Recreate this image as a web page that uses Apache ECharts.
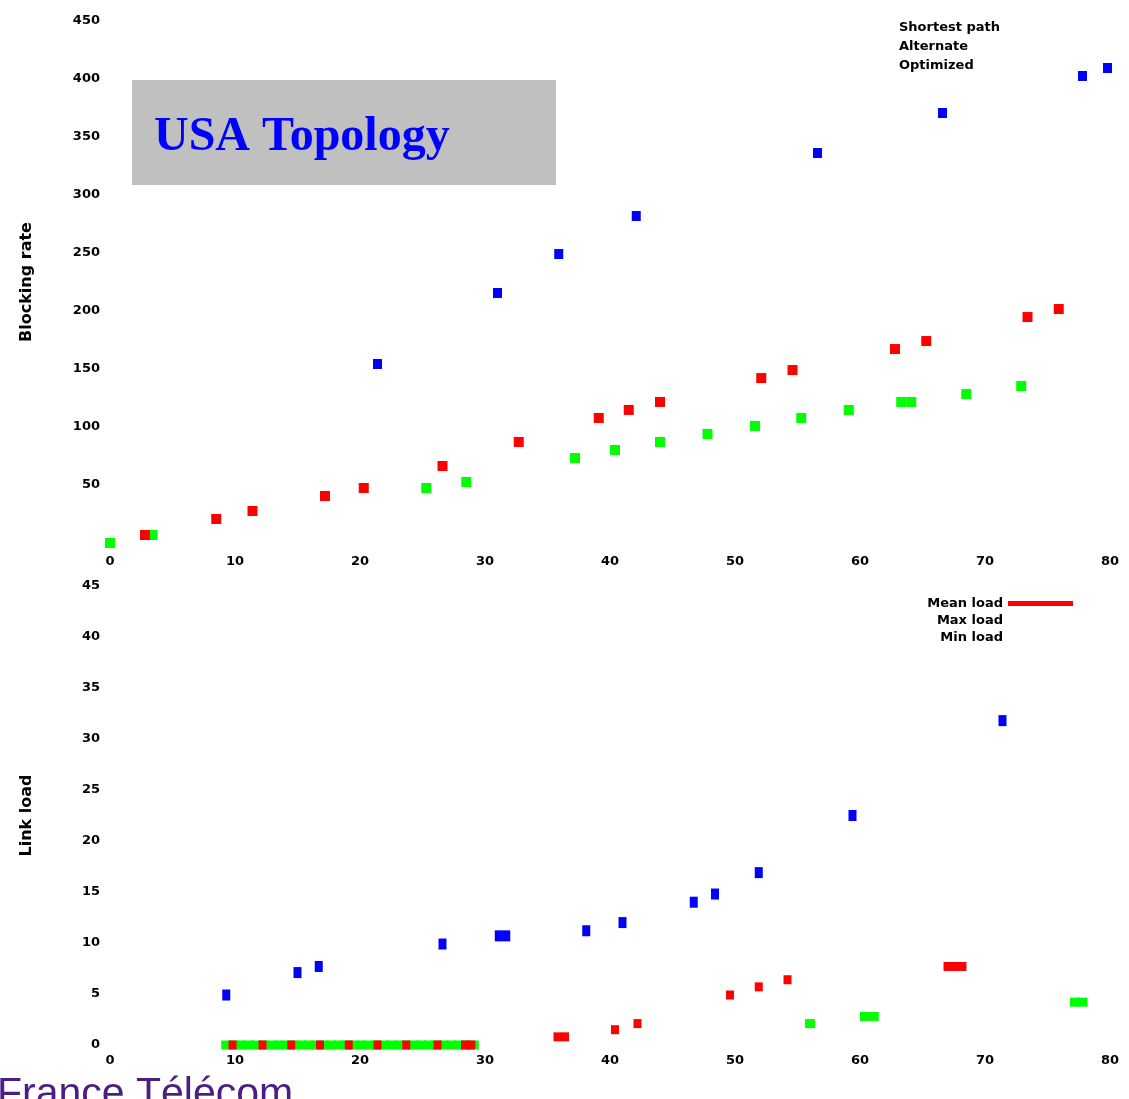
<!DOCTYPE html>
<html>
<head>
<meta charset="utf-8">
<script src="https://cdn.jsdelivr.net/npm/echarts@6/dist/echarts.min.js"></script>
<style>
html,body{margin:0;padding:0;background:#fff;}
#chart{width:1129px;height:1099px;}
</style>
</head>
<body>
<div id="chart"></div>
<script>
// ---- Top panel (USA Topology) ----
const topX_blue  = [21.4, 31.0, 35.9, 42.1, 56.6, 66.6, 77.8, 79.8];
const topY_blue  = [154.3, 215.5, 249.1, 281.9, 336.2, 370.7, 402.6, 409.5];
const topX_red   = [2.8, 8.5, 11.4, 17.2, 20.3, 26.6, 32.7, 39.1, 41.5, 44.0, 52.1, 54.6, 62.8, 65.3, 73.4, 75.9];
const topY_red   = [6.9, 20.7, 27.6, 40.5, 47.4, 66.4, 87.1, 107.8, 114.7, 121.6, 142.2, 149.1, 167.2, 174.1, 194.8, 201.7];
const topX_green = [0, 3.4, 25.3, 28.5, 37.2, 40.4, 44.0, 47.8, 51.6, 55.3, 59.1, 63.3, 64.1, 68.5, 72.9];
const topY_green = [0, 6.9, 47.4, 52.6, 73.3, 80.2, 87.1, 94.0, 100.9, 107.8, 114.7, 121.6, 121.6, 128.4, 135.3];

// ---- Bottom panel ----
const botX_blue  = [9.3, 15.0, 16.7, 26.6, 31.1, 31.7, 38.1, 41.0, 46.7, 48.4, 51.9, 59.4, 71.4];
const botY_blue  = [4.9, 7.1, 7.7, 9.9, 10.7, 10.7, 11.2, 12.0, 14.0, 14.8, 16.9, 22.5, 31.8];
const botX_red   = [9.8, 12.2, 14.5, 16.8, 19.1, 21.4, 23.7, 26.2, 28.4, 28.9, 35.8, 36.4, 40.4, 42.2, 49.6, 51.9, 54.2, 67.0, 67.6, 68.2];
const botY_red   = [0, 0, 0, 0, 0, 0, 0, 0, 0, 0, 0.8, 0.8, 1.5, 2.1, 4.9, 5.7, 6.4, 7.7, 7.7, 7.7];
const botX_green = [9.3, 9.9, 10.5, 11.1, 11.7, 12.3, 12.9, 13.5, 14.1, 14.7, 15.3, 15.9, 16.5, 17.1, 17.7, 18.3, 18.9, 19.5, 20.1, 20.7, 21.3, 21.9, 22.5, 23.1, 23.7, 24.3, 24.9, 25.5, 26.1, 26.7, 27.3, 27.9, 28.5, 29.1, 56.0, 60.4, 61.1, 77.2, 77.8];
const botY_green = [0, 0, 0, 0, 0, 0, 0, 0, 0, 0, 0, 0, 0, 0, 0, 0, 0, 0, 0, 0, 0, 0, 0, 0, 0, 0, 0, 0, 0, 0, 0, 0, 0, 0, 2.1, 2.8, 2.8, 4.2, 4.2];

const xTicks = [0, 10, 20, 30, 40, 50, 60, 70, 80];
const topYTicks = [0, 50, 100, 150, 200, 250, 300, 350, 400, 450];
const botYTicks = [0, 5, 10, 15, 20, 25, 30, 35, 40, 45];

const topNames = ['Shortest path', 'Alternate', 'Optimized'];
const botNames = ['Max load', 'Mean load', 'Min load'];

const pairs = (xs, ys) => xs.map((x, i) => [x, ys[i]]);

const labelStyle = {color: '#000', fontWeight: 'bold', fontSize: 13, fontFamily: 'DejaVu Sans'};

function xAxis(gridIndex, margin) {
  return {
    type: 'value', gridIndex, min: xTicks[0], max: xTicks[xTicks.length - 1], interval: 10,
    axisLine: {show: false}, axisTick: {show: false}, splitLine: {show: false},
    axisLabel: Object.assign({margin}, labelStyle)
  };
}
function yAxis(gridIndex, ticks, name, showMin) {
  return {
    type: 'value', gridIndex, min: ticks[0], max: ticks[ticks.length - 1], interval: ticks[1] - ticks[0],
    axisLine: {show: false}, axisTick: {show: false}, splitLine: {show: false},
    axisLabel: Object.assign({margin: 10, showMinLabel: showMin}, labelStyle),
    name, nameLocation: 'middle', nameGap: 75, nameRotate: 90,
    nameTextStyle: {color: '#000', fontWeight: 'bold', fontSize: 16, fontFamily: 'DejaVu Sans'}
  };
}
function sc(name, data, color, xi, size) {
  return {
    type: 'scatter', name, xAxisIndex: xi, yAxisIndex: xi, data,
    symbol: 'rect', symbolSize: size, clip: false,
    itemStyle: {color, opacity: 1}, emphasis: {disabled: true}, silent: true
  };
}

const chart = echarts.init(document.getElementById('chart'), null, {renderer: 'canvas'});
chart.setOption({
  animation: false,
  backgroundColor: '#fff',
  grid: [
    {left: 110, right: 19, top: 21, height: 522},
    {left: 110, right: 19, top: 586, height: 459}
  ],
  xAxis: [xAxis(0, 12), xAxis(1, 9)],
  yAxis: [yAxis(0, topYTicks, 'Blocking rate', false), yAxis(1, botYTicks, 'Link load', true)],
  legend: [
    {
      orient: 'vertical', right: 124, top: 16, itemGap: 6, itemWidth: 0, itemHeight: 0,
      data: topNames.map(n => ({name: n, icon: 'none'})),
      textStyle: labelStyle, selectedMode: false
    },
    {
      orient: 'vertical', right: 51, top: 592, itemGap: 4, itemWidth: 65, itemHeight: 5, align: 'right',
      data: [{name: botNames[1], icon: 'rect'}, {name: botNames[0], icon: 'none'}, {name: botNames[2], icon: 'none'}],
      textStyle: labelStyle, selectedMode: false
    }
  ],
  series: [
    sc(topNames[0], pairs(topX_blue, topY_blue), '#0000ff', 0, [9, 10]),
    sc(topNames[2], pairs(topX_green, topY_green), '#00ff00', 0, [10, 10]),
    sc(topNames[1], pairs(topX_red, topY_red), '#ff0000', 0, [10, 10]),
    sc(botNames[0], pairs(botX_blue, botY_blue), '#0000ff', 1, [8, 11]),
    sc(botNames[2], pairs(botX_green, botY_green), '#00ff00', 1, [10, 9]),
    sc(botNames[1], pairs(botX_red, botY_red), '#ff0000', 1, [8, 9])
  ],
  graphic: [
    {type: 'rect', left: 132, top: 80, shape: {width: 424, height: 105}, style: {fill: '#c0c0c0'}, silent: true},
    {type: 'text', left: 154, top: 114, style: {text: 'USA Topology', fill: '#0000ff', font: 'bold 48px "Liberation Serif", serif'}, silent: true},
    {type: 'text', left: -3, top: 1074, style: {text: 'France Télécom', fill: '#4b1e82', font: '41px "Liberation Sans", Arial, sans-serif'}, silent: true}
  ]
});
</script>
</body>
</html>
